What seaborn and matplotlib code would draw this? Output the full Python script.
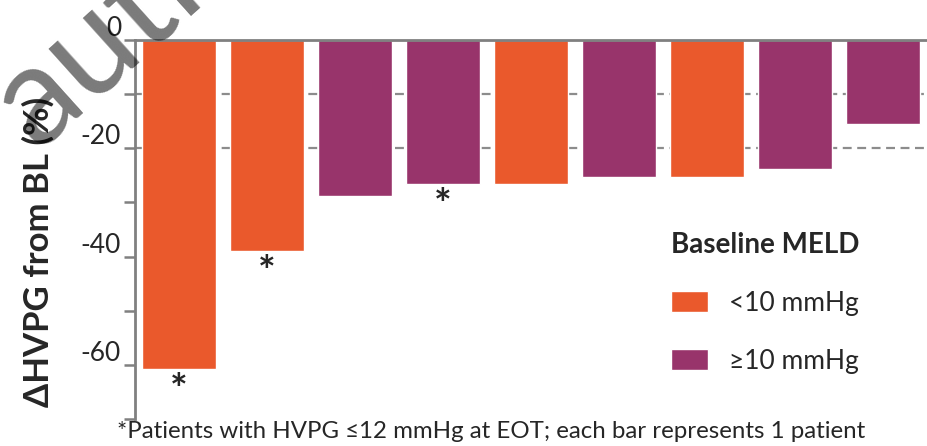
import matplotlib
matplotlib.use('Agg')
import matplotlib.pyplot as plt
import matplotlib.transforms as mtransforms
import seaborn as sns
import pandas as pd

# valores
pacientes = [1, 2, 3, 4, 5, 6, 7, 8, 9]
delta_hvpg = [-60.8, -38.9, -28.8, -26.6, -26.6, -25.3, -25.3, -23.8, -15.5]
meld = ['<10 mmHg', '<10 mmHg', '≥10 mmHg', '≥10 mmHg', '<10 mmHg',
        '≥10 mmHg', '<10 mmHg', '≥10 mmHg', '≥10 mmHg']
asterisco = [True, True, False, True, False, False, False, False, False]
cores = {'<10 mmHg': '#EA592C', '≥10 mmHg': '#98346B'}

df = pd.DataFrame({'Paciente': pacientes, 'Delta': delta_hvpg, 'MELD': meld})

sns.set_style('white')
plt.rcParams['font.family'] = ['Lato', 'DejaVu Sans']

fig = plt.figure(figsize=(9.27, 4.46), dpi=100)
ax = fig.add_axes([135 / 927, 1 - 419 / 446, 792 / 927, 379 / 446])

# linhas tracejadas de referência
for y in [-10, -20]:
    ax.axhline(y, color='#8c8c8c', lw=1.6, ls=(0, (4, 2.5)), zorder=0)

sns.barplot(data=df, x='Paciente', y='Delta', hue='MELD', palette=cores,
            dodge=False, width=0.83, saturation=1, ax=ax, zorder=2,
            hue_order=['<10 mmHg', '≥10 mmHg'])

for i, (v, a) in enumerate(zip(delta_hvpg, asterisco)):
    if a:
        ax.annotate('*', (i, v), xytext=(0, -3), textcoords='offset points',
                    ha='center', va='top', fontsize=30, fontweight='bold')

ax.set_xlim(-0.5, 8.5)
ax.set_ylim(-70, 0)
ax.set_yticks(range(-70, 1, 10))
ax.set_yticklabels(['' if t % 20 else str(t) for t in range(-70, 1, 10)], fontsize=19)
ax.set_xticks([])
ax.set_xlabel('')
ax.set_ylabel('')

for s in ['right', 'bottom']:
    ax.spines[s].set_visible(False)
for s in ['left', 'top']:
    ax.spines[s].set_color('#808080')
    ax.spines[s].set_linewidth(2)
    ax.spines[s].set_zorder(3)
ax.tick_params(axis='y', direction='out', length=8, width=1.8, color='#808080', left=True, pad=2)

# rótulos deslocados para cima como no original
offset = mtransforms.ScaledTranslation(0, 14 / 100, fig.dpi_scale_trans)
for lab in ax.get_yticklabels():
    lab.set_transform(lab.get_transform() + offset)

fig.text(38 / 927, 1 - 252 / 446, 'ΔHVPG from BL (%)', rotation=90, ha='center', va='center',
         fontsize=25, fontweight='bold')

leg = ax.legend(title='Baseline MELD', loc='upper left', bbox_to_anchor=(0.66, 0.528),
                frameon=False, fontsize=19, title_fontsize=20, handlelength=1.4,
                handleheight=0.85, handletextpad=0.8, labelspacing=1.25, borderpad=0)
leg.get_title().set_fontweight('bold')
leg._legend_box.align = 'left'

fig.text(117 / 927, 1 - 432 / 446, '*Patients with HVPG ≤12 mmHg at EOT; each bar represents 1 patient',
         ha='left', va='center', fontsize=17.3)

# marca d'água
fig.text(38 / 927, 1 - 150 / 446, 'author', rotation=42, rotation_mode='anchor', fontsize=100,
         color='black', alpha=0.52, ha='left', va='baseline', zorder=10)

fig.savefig('out.png', dpi=100)
